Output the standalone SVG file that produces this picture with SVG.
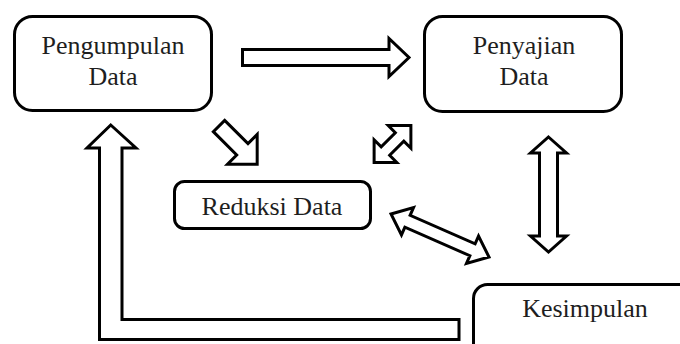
<svg xmlns="http://www.w3.org/2000/svg" width="680" height="344" viewBox="0 0 680 344">
<style>
.box{fill:#fff;stroke:#000;stroke-width:3}
.arr{fill:#fff;stroke:#000;stroke-width:3;stroke-linejoin:miter}
.t{font-family:'Liberation Serif','Times New Roman',serif;font-size:26px;fill:#1e1e1e;text-anchor:middle}
</style>
<rect width="680" height="344" fill="#fff"/>
<g id="connectors">
<polygon class="arr" points="242.5,49.5 389,49.5 389,38.5 409,57.5 389,76.5 389,65.5 242.5,65.5"/>
<polygon class="arr" transform="translate(219,126) rotate(45)" points="0,-8 33,-8 33,-21 54,0 33,21 33,8 0,8"/>
<polygon class="arr" transform="translate(392.5,144) rotate(-45)" points="-26,0 -10,-16 -10,-6 10,-6 10,-16 26,0 10,16 10,6 -10,6 -10,16"/>
<polygon class="arr" transform="translate(548.5,194.5) rotate(90)" points="-57.5,0 -41.5,-18 -41.5,-9 41.5,-9 41.5,-18 57.5,0 41.5,18 41.5,9 -41.5,9 -41.5,18"/>
<polygon class="arr" transform="translate(440,235.5) rotate(23.7)" points="-53.5,0 -35.5,-15 -35.5,-6.5 35.5,-6.5 35.5,-15 53.5,0 35.5,15 35.5,6.5 -35.5,6.5 -35.5,15"/>
<polygon class="arr" points="110.75,125 136,148 122,148 122,319.5 459,319.5 459,339.5 99.5,339.5 99.5,148 87,148"/>
</g>
<g id="pengumpulan">
<rect class="box" x="14.5" y="16.5" width="197" height="94" rx="18"/>
<text class="t" x="113" y="54">Pengumpulan</text>
<text class="t" x="113" y="85">Data</text>
</g>
<g id="penyajian">
<rect class="box" x="424.5" y="16.5" width="197" height="95" rx="18"/>
<text class="t" x="524" y="54">Penyajian</text>
<text class="t" x="524" y="85">Data</text>
</g>
<g id="reduksi">
<rect class="box" x="174.5" y="181.5" width="196" height="47" rx="10"/>
<text class="t" x="272" y="215">Reduksi Data</text>
</g>
<g id="kesimpulan">
<rect class="box" x="473.5" y="284.5" width="250" height="80" rx="14"/>
<text class="t" x="585" y="317">Kesimpulan</text>
</g>
</svg>
